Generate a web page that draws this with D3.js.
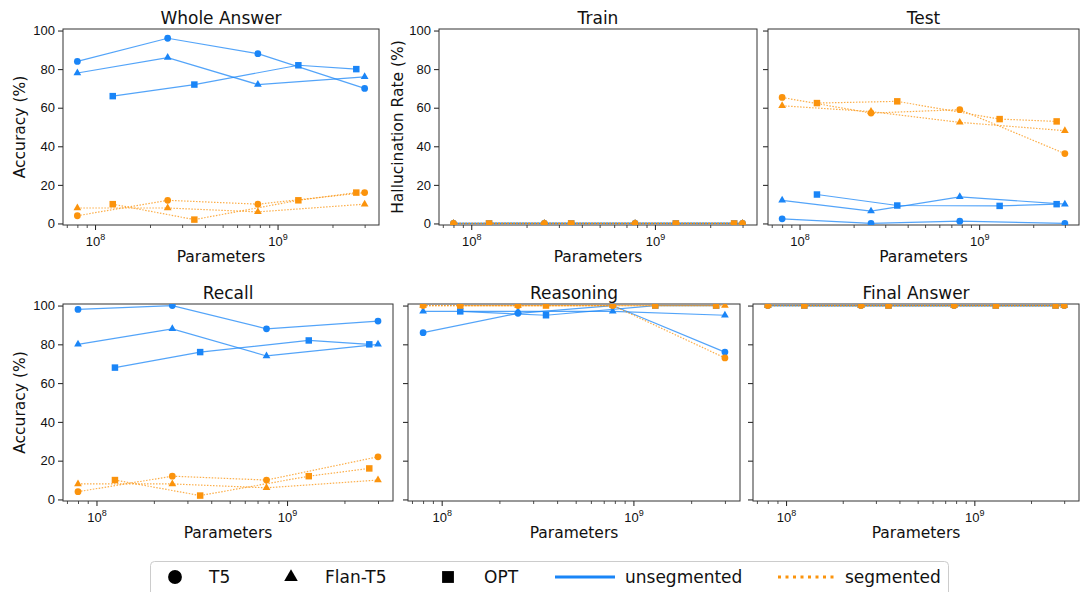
<!DOCTYPE html>
<html>
<head>
<meta charset="utf-8">
<script src="https://cdn.jsdelivr.net/npm/d3@7"></script>
<style>
  body { margin: 0; background: #fff; }
  svg { font-family: "DejaVu Sans", sans-serif; }
</style>
</head>
<body>
<div id="chart"></div>
<script>
// Model sizes (parameters)
const t5Params = [8e7, 2.5e8, 7.8e8, 3e9];      // T5 and Flan-T5
const optParams = [1.25e8, 3.5e8, 1.3e9, 2.7e9]; // OPT

const models = ["T5", "Flan-T5", "OPT"];
const yTicks = [0, 20, 40, 60, 80, 100];

// values per model: [T5, Flan-T5, OPT]
const wholeUnseg = [[84, 96, 88, 70], [78, 86, 72, 76], [66, 72, 82, 80]];
const wholeSeg = [[4, 12, 10, 16], [8, 8, 6, 10], [10, 2, 12, 16]];
const trainUnseg = [[0, 0, 0, 0], [0, 0, 0, 0], [0, 0, 0, 0]];
const trainSeg = [[0, 0, 0, 0], [0, 0, 0, 0], [0, 0, 0, 0]];
const testUnseg = [[2.4, 0, 1.2, 0], [12, 6.4, 13.8, 10], [15, 9.3, 9.1, 10]];
const testSeg = [[65.3, 57.2, 59, 36.2], [61, 58, 52.4, 48.1], [62.4, 63.3, 54.1, 52.9]];
const recallUnseg = [[98, 100, 88, 92], [80, 88, 74, 80], [68, 76, 82, 80]];
const recallSeg = [[4, 12, 10, 22], [8, 8, 6, 10], [10, 2, 12, 16]];
const reasonUnseg = [[86, 96, 100, 76], [97, 97, 97, 95], [97, 95, 100, 100]];
const reasonSeg = [[100, 100, 100, 73], [100, 100, 100, 100], [100, 100, 100, 100]];
const finalUnseg = [[100, 100, 100, 100], [100, 100, 100, 100], [100, 100, 100, 100]];
const finalSeg = [[100, 100, 100, 100], [100, 100, 100, 100], [100, 100, 100, 100]];

const blue = "#1a85f7";
const orange = "#fb930c";

const width = 1080;
const height = 592;

const svg = d3.select("#chart")
  .append("svg")
  .attr("width", width)
  .attr("height", height);

// panel boxes: x0, x1, y0, y1
const panels = [
  { title: "Whole Answer", box: [63, 379, 29, 225], ylabel: "Accuracy (%)", labels: true, uns: wholeUnseg, seg: wholeSeg },
  { title: "Train", box: [439, 757, 29, 225], ylabel: "Hallucination Rate (%)", labels: true, uns: trainUnseg, seg: trainSeg },
  { title: "Test", box: [768, 1079, 29, 225], ylabel: null, labels: false, uns: testUnseg, seg: testSeg },
  { title: "Recall", box: [63, 393, 304, 501], ylabel: "Accuracy (%)", labels: true, uns: recallUnseg, seg: recallSeg },
  { title: "Reasoning", box: [408, 740, 304, 501], ylabel: null, labels: false, uns: reasonUnseg, seg: reasonSeg },
  { title: "Final Answer", box: [753, 1079, 304, 501], ylabel: null, labels: false, uns: finalUnseg, seg: finalSeg }
];

// log x domain with 5% padding like matplotlib
const allX = t5Params.concat(optParams);
const lo = Math.log10(d3.min(allX)), hi = Math.log10(d3.max(allX));
const pad = (hi - lo) * 0.05;
const xDomain = [Math.pow(10, lo - pad), Math.pow(10, hi + pad)];

const minorTicks = [];
for (let e = 7; e <= 9; e++) {
  for (let m = 2; m <= 9; m++) {
    const v = m * Math.pow(10, e);
    if (v > xDomain[0] && v < xDomain[1]) minorTicks.push(v);
  }
}

function markerPath(model, size) {
  if (model === "T5") return d3.symbol(d3.symbolCircle, size)();
  if (model === "Flan-T5") return d3.symbol(d3.symbolTriangle, size)();
  return d3.symbol(d3.symbolSquare, size)();
}

panels.forEach((p, pi) => {
  const [x0, x1, y0, y1] = p.box;
  const x = d3.scaleLog().domain(xDomain).range([x0, x1]);
  const y = d3.scaleLinear().domain([-0.8, 100.8]).range([y1, y0]);

  const g = svg.append("g");

  g.append("clipPath").attr("id", "clip" + pi)
    .append("rect")
    .attr("x", x0).attr("y", y0)
    .attr("width", x1 - x0).attr("height", y1 - y0);

  // x axis (major)
  const xAxis = g.append("g")
    .attr("transform", `translate(0,${y1})`)
    .call(d3.axisBottom(x).tickValues([1e8, 1e9]).tickSize(5).tickSizeOuter(0).tickFormat(""));
  xAxis.select(".domain").remove();
  xAxis.selectAll(".tick line").attr("stroke", "#000").attr("stroke-width", 0.9);
  xAxis.selectAll(".tick").each(function (d) {
    const t = d3.select(this).append("text")
      .attr("fill", "#111")
      .attr("y", 21)
      .attr("text-anchor", "middle")
      .style("font-size", "13px");
    t.append("tspan").text("10");
    t.append("tspan").attr("dy", -6).style("font-size", "9px").text(Math.round(Math.log10(d)));
  });

  // x axis (minor)
  const xMinor = g.append("g")
    .attr("transform", `translate(0,${y1})`)
    .call(d3.axisBottom(x).tickValues(minorTicks).tickSize(3).tickSizeOuter(0).tickFormat(""));
  xMinor.select(".domain").remove();
  xMinor.selectAll(".tick line").attr("stroke", "#000").attr("stroke-width", 0.7);

  // y axis
  const yAxis = g.append("g")
    .attr("transform", `translate(${x0},0)`)
    .call(d3.axisLeft(y).tickValues(yTicks).tickSize(5).tickSizeOuter(0)
      .tickFormat(p.labels ? d3.format("d") : ""));
  yAxis.select(".domain").remove();
  yAxis.selectAll(".tick line").attr("stroke", "#000").attr("stroke-width", 0.9);
  yAxis.selectAll(".tick text")
    .attr("fill", "#111")
    .attr("x", -8)
    .style("font-size", "13px");

  // frame
  g.append("rect")
    .attr("x", x0).attr("y", y0)
    .attr("width", x1 - x0).attr("height", y1 - y0)
    .attr("fill", "none")
    .attr("stroke", "#333")
    .attr("stroke-width", 1);

  // title
  g.append("text")
    .attr("x", (x0 + x1) / 2)
    .attr("y", y0 - 5)
    .attr("text-anchor", "middle")
    .style("font-size", "17px")
    .attr("fill", "#111")
    .text(p.title);

  // x label
  g.append("text")
    .attr("x", (x0 + x1) / 2)
    .attr("y", y1 + 37)
    .attr("text-anchor", "middle")
    .style("font-size", "15.5px")
    .attr("fill", "#111")
    .text("Parameters");

  // y label
  if (p.ylabel) {
    const lx = pi === 1 ? 403 : 25;
    g.append("text")
      .attr("transform", `translate(${lx},${(y0 + y1) / 2}) rotate(-90)`)
      .attr("text-anchor", "middle")
      .style("font-size", "15.5px")
      .attr("fill", "#111")
      .text(p.ylabel);
  }

  // series
  const plot = g.append("g").attr("clip-path", `url(#clip${pi})`);
  const line = d3.line().x((d) => x(d[0])).y((d) => y(d[1]));

  [{ data: p.uns, color: blue, dash: null }, { data: p.seg, color: orange, dash: "1.5,1.5" }]
    .forEach((s) => {
      s.data.forEach((vals, mi) => {
        const xs = models[mi] === "OPT" ? optParams : t5Params;
        const pts = vals.map((v, i) => [xs[i], v]);
        plot.append("path")
          .datum(pts)
          .attr("d", line)
          .attr("fill", "none")
          .attr("stroke", s.color)
          .attr("stroke-width", 1.2)
          .attr("stroke-opacity", 0.75)
          .attr("stroke-dasharray", s.dash);
        const size = { "T5": 36, "Flan-T5": 26, "OPT": 42 }[models[mi]];
        plot.selectAll(null)
          .data(pts)
          .enter()
          .append("path")
          .attr("transform", (d) => `translate(${x(d[0])},${y(d[1])})`)
          .attr("d", markerPath(models[mi], size))
          .attr("fill", s.color);
      });
    });
});

// legend
const legend = svg.append("g");
legend.append("rect")
  .attr("x", 150.5).attr("y", 561.5)
  .attr("width", 798).attr("height", 45)
  .attr("rx", 4)
  .attr("fill", "#fff")
  .attr("stroke", "#ccc");

const legendY = 577;
const markerItems = [
  { model: "T5", mx: 175, tx: 209, size: 150 },
  { model: "Flan-T5", mx: 291, tx: 325, size: 80 },
  { model: "OPT", mx: 448, tx: 484, size: 140 }
];
markerItems.forEach((d) => {
  legend.append("path")
    .attr("transform", `translate(${d.mx},${legendY})`)
    .attr("d", markerPath(d.model, d.size))
    .attr("fill", "#000");
  legend.append("text")
    .attr("x", d.tx).attr("y", legendY + 6)
    .style("font-size", "17px")
    .attr("fill", "#111")
    .text(d.model);
});

legend.append("line")
  .attr("x1", 555).attr("x2", 615)
  .attr("y1", legendY).attr("y2", legendY)
  .attr("stroke", blue).attr("stroke-width", 3);
legend.append("text")
  .attr("x", 625).attr("y", legendY + 6)
  .style("font-size", "17px").attr("fill", "#111")
  .text("unsegmented");

legend.append("line")
  .attr("x1", 778).attr("x2", 835)
  .attr("y1", legendY).attr("y2", legendY)
  .attr("stroke", orange).attr("stroke-width", 3)
  .attr("stroke-dasharray", "3,4.5");
legend.append("text")
  .attr("x", 845).attr("y", legendY + 6)
  .style("font-size", "17px").attr("fill", "#111")
  .text("segmented");
</script>
</body>
</html>
